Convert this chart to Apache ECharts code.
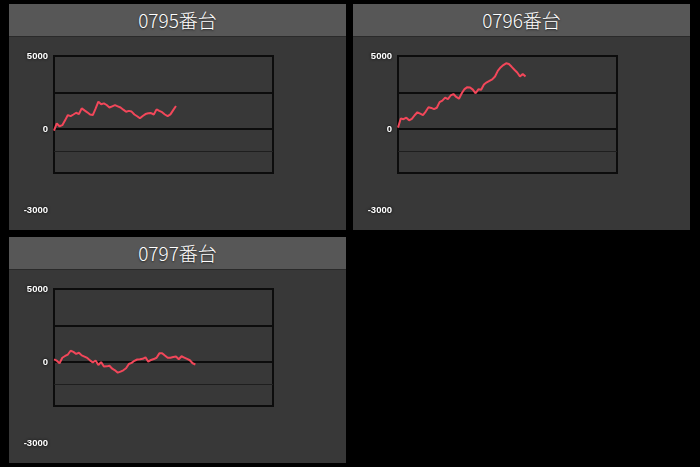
<!DOCTYPE html>
<html>
<head>
<meta charset="utf-8">
<script src="https://cdn.jsdelivr.net/npm/echarts@6/dist/echarts.min.js"></script>
<style>
    html, body {margin: 0; padding: 0; background: #000; width: 700px; height: 467px; overflow: hidden;}
    .panel {position: absolute; width: 337px; height: 226px; background: #383838;}
    .panel .head {height: 32px; line-height: 32px; background: #575757; border-bottom: 1px solid #2a2a2a;
        color: #fff; text-align: center; font-size: 19px; font-weight: 300;
        font-family: "Noto Sans CJK JP", "Noto Sans", sans-serif;
        text-shadow: 0 1px 2px rgba(0,0,0,.6);}
    .panel .chart {width: 337px; height: 193px;}
</style>
</head>
<body>
<script>
    /*台番号*/
    var machineNames = ['0795番台', '0796番台', '0797番台'];
    /*横軸の枠数*/
    var slotCount = 80;
    /*縦軸*/
    var yMin = -3000;
    var yMax = 5000;
    var yLabels = [5000, 0];
    var yBottomLabel = [-3000];
    var gridValues = [2500, 0];
    var subGridValues = [-1500];

    /*差枚数データ*/
    var data0795 = [-100, 390, 200, 270, 600, 960, 890, 1000, 1120, 1030,
        1420, 1280, 1150, 1000, 960, 1400, 1880, 1700, 1760, 1650,
        1480, 1560, 1640, 1560, 1480, 1330, 1190, 1250, 1200, 1000,
        880, 740, 900, 1030, 1080, 1100, 1000, 1350, 1250, 1160,
        1000, 890, 1010, 1300, 1580];
    var data0796 = [100, 730, 680, 780, 600, 700, 950, 1150, 1060, 960,
        1200, 1500, 1450, 1370, 1460, 1850, 1950, 2150, 2050, 2300,
        2400, 2200, 2080, 2450, 2740, 2870, 2850, 2700, 2450, 2720,
        2690, 3050, 3200, 3300, 3400, 3600, 3980, 4220, 4380, 4500,
        4450, 4260, 4060, 3870, 3600, 3770, 3600];
    var data0797 = [185, 100, -80, 300, 420, 520, 780, 700, 560, 640,
        460, 380, 290, 120, -30, 110, -200, 0, -300, -290,
        -250, -450, -560, -720, -650, -560, -420, -130, -50, 90,
        180, 190, 230, 330, 30, 150, 210, 300, 600, 610,
        450, 300, 300, 350, 380, 200, 400, 310, 220, 130,
        -80, -160];
    var allData = [data0795, data0796, data0797];

    var panelPos = [[9, 4], [353, 4], [9, 237]];

    var slots = [];
    for (var i = 0; i < slotCount; i++) {
        slots.push(i + 1 + '');
    }

    var labelStyle = {
        color: '#fff',
        fontSize: 9.5,
        fontWeight: 'bold',
        fontFamily: 'Liberation Sans, Arial, sans-serif',
        textShadowColor: '#000',
        textShadowBlur: 3,
        margin: 6,
        formatter: function (v) {
            return v + '';
        }
    };

    for (var k = 0; k < machineNames.length; k++) {
        var panel = document.createElement('div');
        panel.className = 'panel';
        panel.style.left = panelPos[k][0] + 'px';
        panel.style.top = panelPos[k][1] + 'px';
        var head = document.createElement('div');
        head.className = 'head';
        head.innerText = machineNames[k];
        var box = document.createElement('div');
        box.className = 'chart';
        panel.appendChild(head);
        panel.appendChild(box);
        document.body.appendChild(panel);

        var lines = [];
        gridValues.forEach(function (v) {
            lines.push({yAxis: v, lineStyle: {color: '#0c0c0c', width: 2, type: 'solid'}});
        });
        subGridValues.forEach(function (v) {
            lines.push({yAxis: v, lineStyle: {color: '#1e1e1e', width: 1, type: 'solid'}});
        });

        var myChart = echarts.init(box);
        var option = {
            animation: false,
            grid: [
                {left: 45, top: 19, width: 219, height: 117, show: true,
                    borderColor: '#0c0c0c', borderWidth: 2, backgroundColor: 'transparent'},
                {left: 45, top: 19, width: 219, height: 154, show: false}
            ],
            xAxis: [
                {gridIndex: 0, type: 'category', data: slots, boundaryGap: false, show: false},
                {gridIndex: 1, type: 'category', data: slots, boundaryGap: false, show: false}
            ],
            yAxis: [
                {
                    gridIndex: 0, type: 'value', min: yMin, max: yMax,
                    axisLine: {show: false}, axisTick: {show: false}, splitLine: {show: false},
                    axisLabel: Object.assign({customValues: yLabels}, labelStyle)
                },
                {
                    gridIndex: 1, type: 'value', min: yMin, max: yMax,
                    axisLine: {show: false}, axisTick: {show: false}, splitLine: {show: false},
                    axisLabel: Object.assign({customValues: yBottomLabel}, labelStyle)
                }
            ],
            series: [{
                type: 'line',
                xAxisIndex: 0,
                yAxisIndex: 0,
                data: allData[k],
                showSymbol: false,
                z: 10,
                lineStyle: {color: '#f2475a', width: 2},
                markLine: {
                    silent: true,
                    symbol: 'none',
                    z: 1,
                    label: {show: false},
                    emphasis: {disabled: true},
                    data: lines
                }
            }]
        };
        myChart.setOption(option);
    }
</script>
</body>
</html>
